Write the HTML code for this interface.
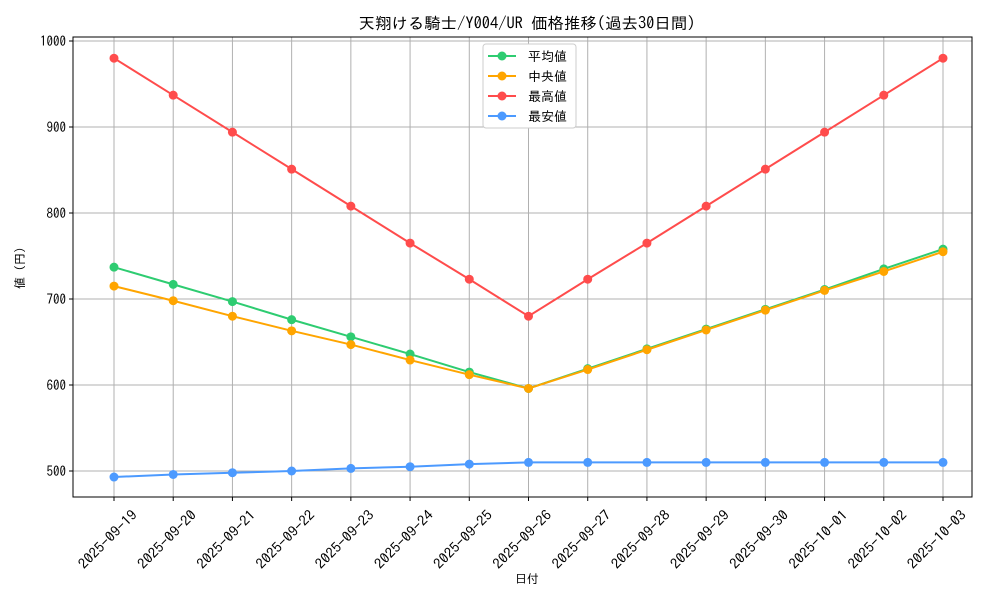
<!DOCTYPE html>
<html><head><meta charset="utf-8"><style>
body{margin:0;background:#fff;}
svg{display:block;font-family:"IPAGothic","Noto Sans CJK JP",sans-serif;}
.tick{font-family:"IPAGothic","Noto Sans CJK JP",sans-serif;}
</style></head><body>
<svg id="chart" width="1000" height="600">
<rect width="1000" height="600" fill="#fff"/>
</svg>
<script>
const categories=["2025-09-19","2025-09-20","2025-09-21","2025-09-22","2025-09-23","2025-09-24","2025-09-25","2025-09-26","2025-09-27","2025-09-28","2025-09-29","2025-09-30","2025-10-01","2025-10-02","2025-10-03"];
const avgValues=[737,717,697,676,656,636,615,596,619,642,665,688,711,735,758];
const medianValues=[715,698,680,663,647,629,612,596,618,641,664,687,710,732,755];
const maxValues=[980,937,894,851,808,765,723,680,723,765,808,851,894,937,980];
const minValues=[493,496,498,500,503,505,508,510,510,510,510,510,510,510,510];
const yTicks=[500,600,700,800,900,1000];
const seriesNames=["平均値","中央値","最高値","最安値"];
const NS="http://www.w3.org/2000/svg";
const svg=document.getElementById("chart");
const L=73,R=972,T=37,B=497;
const x=i=>114+i*(943-114)/(categories.length-1);
const y=v=>471-(v-500)*0.86;
function mk(tag,attrs,parent){const e=document.createElementNS(NS,tag);for(const k in attrs)e.setAttribute(k,attrs[k]);(parent||svg).appendChild(e);return e;}
categories.forEach((c,i)=>{const g=mk("line",{x1:x(i),x2:x(i),y1:T,y2:B,stroke:"#b0b0b0","stroke-width":1});

});
yTicks.forEach(v=>{const g=mk("line",{x1:L,x2:R,y1:y(v),y2:y(v),stroke:"#b0b0b0","stroke-width":1});


mk("line",{x1:L-4,x2:L,y1:y(v),y2:y(v),stroke:"#000"});
const s=String(v);
const t=mk("text",{class:"tick",x:L-7,y:y(v)+5,"text-anchor":"end","font-size":14,textLength:s.length*6.5,lengthAdjust:"spacingAndGlyphs"});t.textContent=s;

});
categories.forEach((c,i)=>{mk("line",{x1:x(i),x2:x(i),y1:B,y2:B+4,stroke:"#000"});
const t=mk("text",{class:"tick",x:0,y:0,"text-anchor":"end","font-size":14,textLength:76,lengthAdjust:"spacingAndGlyphs",transform:`translate(${x(i)+24},${B+19}) rotate(-45)`});t.textContent=c;

});
const frame=mk("rect",{x:L,y:T,width:R-L,height:B-T,fill:"none",stroke:"#000"});


const colors=["#2ecc71","#ffa500","#ff4c4c","#4c9aff"];
const all=[avgValues,medianValues,maxValues,minValues];
const order=[2,3,0,1];
order.forEach(s=>{const vals=all[s];
const p=mk("polyline",{points:vals.map((v,i)=>x(i)+","+y(v)).join(" "),fill:"none",stroke:colors[s],"stroke-width":2});


vals.forEach((v,i)=>{const c=mk("circle",{cx:x(i),cy:y(v),r:4.5,fill:colors[s]});

});});
const lg=mk("rect",{x:483,y:44,width:93,height:84,fill:"#fff",stroke:"#ccc",rx:3});


seriesNames.forEach((n,i)=>{const yy=56+i*20;
mk("line",{x1:488,x2:516,y1:yy,y2:yy,stroke:colors[i],"stroke-width":2});
mk("circle",{cx:502,cy:yy,r:4.5,fill:colors[i]});
const t=mk("text",{x:528,y:yy+5,"font-size":13});t.textContent=n;

});
const ti=mk("text",{x:527,y:29,"text-anchor":"middle","font-size":16,textLength:337,lengthAdjust:"spacingAndGlyphs"});ti.textContent="天翔ける騎士/Y004/UR 価格推移(過去30日間)";


const xt=mk("text",{x:527,y:583,"text-anchor":"middle","font-size":12});xt.textContent="日付";


const yt=mk("text",{x:0,y:0,"text-anchor":"middle","font-size":12,transform:"translate(24,268) rotate(-90)"});yt.textContent="値 (円)";


</script>
</body></html>
